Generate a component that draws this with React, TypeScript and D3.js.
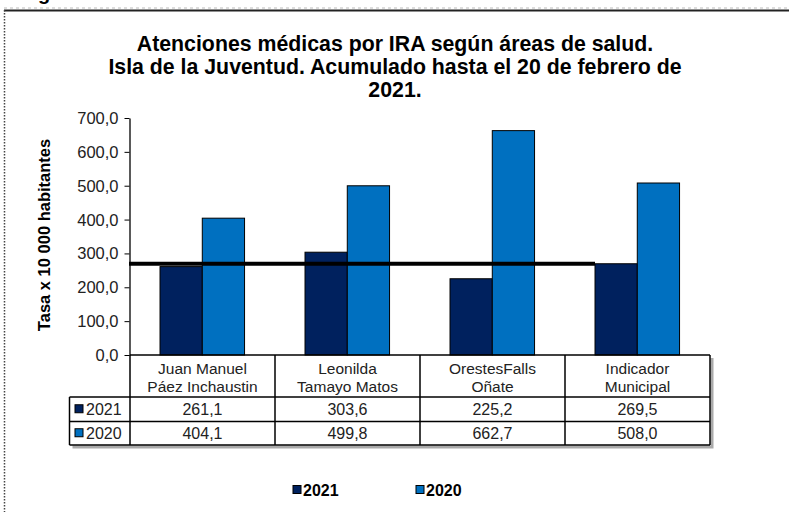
import { useRef, useEffect } from "react";
import * as d3 from "d3";

const categories = [
  "Juan Manuel Páez Inchaustin",
  "Leonilda Tamayo Matos",
  "OrestesFalls Oñate",
  "Indicador Municipal",
];
const categoryLines = [
  ["Juan Manuel", "Páez Inchaustin"],
  ["Leonilda", "Tamayo Matos"],
  ["OrestesFalls", "Oñate"],
  ["Indicador", "Municipal"],
];
const seriesNames = ["2021", "2020"];
const values2021 = [261.1, 303.6, 225.2, 269.5];
const values2020 = [404.1, 499.8, 662.7, 508.0];
const yTicks = [0, 100, 200, 300, 400, 500, 600, 700];
const titleLines = [
  "Atenciones médicas por IRA según áreas de salud.",
  "Isla de la Juventud. Acumulado hasta el 20 de febrero de",
  "2021.",
];
const yTitle = "Tasa x 10 000 habitantes";

const colors = { "2021": "#00215E", "2020": "#0070C0" };

function App() {
  const svgRef = useRef(null);

  useEffect(() => {
    const w = 789;
    const h = 512;
    const svg = d3.select(svgRef.current).attr("width", w).attr("height", h);
    svg.selectAll("*").remove();

    const font = "'Liberation Sans', Arial, sans-serif";
    const comma = (v) => d3.format(".1f")(v).replace(".", ",");
    const seriesValues = { "2021": values2021, "2020": values2020 };

    // frame (cropped page border)
    svg.append("line")
      .attr("x1", 4).attr("x2", w).attr("y1", 8).attr("y2", 8)
      .attr("stroke", "#bbb").attr("stroke-dasharray", "3,3");
    svg.append("line")
      .attr("x1", 4).attr("x2", w).attr("y1", 10.5).attr("y2", 10.5)
      .attr("stroke", "#222").attr("stroke-width", 2);
    svg.append("line")
      .attr("x1", 4.5).attr("x2", 4.5).attr("y1", 10).attr("y2", h)
      .attr("stroke", "#444").attr("stroke-width", 1.5).attr("stroke-dasharray", "1.5,1.5");
    svg.append("text")
      .attr("x", 38).attr("y", 0)
      .attr("font-family", font).attr("font-weight", "bold").attr("font-size", 20)
      .text("g");

    // title
    svg.append("g")
      .selectAll("text")
      .data(titleLines)
      .join("text")
      .attr("x", 395)
      .attr("y", (d, i) => 51 + i * 23)
      .attr("text-anchor", "middle")
      .attr("font-family", font)
      .attr("font-weight", "bold")
      .attr("font-size", 21.3)
      .text((d) => d);

    // scales
    const yScale = d3.scaleLinear().domain([0, 700]).range([355, 118]);
    const x0 = d3.scaleBand().domain(categories).range([130, 710]);
    const bw = x0.bandwidth();
    const x1 = d3.scaleBand().domain(seriesNames).range([bw * 0.207, bw * 0.79]);

    // y axis
    const yAxis = d3.axisLeft(yScale).tickValues(yTicks).tickFormat(comma).tickSize(5).tickSizeOuter(0);
    const ag = svg.append("g").attr("transform", "translate(129.5,0)").call(yAxis);
    ag.select(".domain").attr("stroke", "#000").attr("stroke-width", 1.3);
    ag.selectAll(".tick line").attr("stroke", "#000");
    ag.selectAll(".tick text")
      .attr("font-family", font).attr("font-size", 16.5).attr("fill", "#222")
      .attr("dy", "0.33em").attr("x", -11);

    svg.append("text")
      .attr("transform", "translate(50,235) rotate(-90)")
      .attr("text-anchor", "middle")
      .attr("font-family", font).attr("font-weight", "bold").attr("font-size", 16.5)
      .text(yTitle);

    // bars
    const groups = svg.append("g")
      .selectAll("g")
      .data(categories)
      .join("g")
      .attr("transform", (d) => `translate(${x0(d)},0)`);
    groups.selectAll("rect")
      .data((d, i) => seriesNames.map((s) => ({ s, v: seriesValues[s][i] })))
      .join("rect")
      .attr("x", (d) => x1(d.s))
      .attr("width", x1.bandwidth())
      .attr("y", (d) => yScale(d.v))
      .attr("height", (d) => yScale(0) - yScale(d.v))
      .attr("fill", (d) => colors[d.s])
      .attr("stroke", "#000")
      .attr("stroke-width", 1);

    // municipal reference line
    const refX = x0(categories[3]) + x1("2021");
    svg.append("line")
      .attr("x1", 129).attr("x2", refX)
      .attr("y1", yScale(values2021[3])).attr("y2", yScale(values2021[3]))
      .attr("stroke", "#000").attr("stroke-width", 4);

    // data table
    const tTop = yScale(0);
    const rowH = [42, 24.5, 23.5];
    const r1 = tTop + rowH[0];
    const r2 = r1 + rowH[1];
    const r3 = r2 + rowH[2];
    const left = 69.5;
    const right = x0.range()[1];
    const tg = svg.append("g");
    // shadow
    tg.append("path")
      .attr("d", `M${right + 2},${tTop + 3} V${r3 + 2} H${left + 3}`)
      .attr("fill", "none").attr("stroke", "#aaa").attr("stroke-width", 3);
    const lines = [
      [x0.range()[0], tTop, right, tTop],
      [left, r1, right, r1],
      [left, r2, right, r2],
      [left, r3, right, r3],
      [left, r1, left, r3],
      [right, tTop, right, r3],
    ];
    categories.forEach((c) => lines.push([x0(c), tTop, x0(c), r3]));
    tg.selectAll("line")
      .data(lines)
      .join("line")
      .attr("x1", (d) => d[0]).attr("y1", (d) => d[1])
      .attr("x2", (d) => d[2]).attr("y2", (d) => d[3])
      .attr("stroke", "#000").attr("stroke-width", 1.5);

    // header labels
    categories.forEach((c, i) => {
      tg.append("g")
        .selectAll("text")
        .data(categoryLines[i])
        .join("text")
        .attr("x", x0(c) + bw / 2)
        .attr("y", (d, j) => tTop + 18.5 + j * 18)
        .attr("text-anchor", "middle")
        .attr("font-family", font).attr("font-size", 15.5).attr("fill", "#222")
        .text((d) => d);
    });

    // rows
    seriesNames.forEach((s, ri) => {
      const yMid = ri === 0 ? (r1 + r2) / 2 : (r2 + r3) / 2;
      tg.append("rect")
        .attr("x", 75).attr("y", yMid - 4.5).attr("width", 8).attr("height", 8)
        .attr("fill", colors[s]).attr("stroke", "#000");
      tg.append("text")
        .attr("x", 86).attr("y", yMid + 6)
        .attr("font-family", font).attr("font-size", 16).attr("fill", "#222")
        .text(s);
      tg.append("g")
        .selectAll("text")
        .data(categories)
        .join("text")
        .attr("x", (c) => x0(c) + bw / 2)
        .attr("y", yMid + 6)
        .attr("text-anchor", "middle")
        .attr("font-family", font).attr("font-size", 16).attr("fill", "#222")
        .text((c, i) => comma(seriesValues[s][i]));
    });

    // legend
    const legendX = { "2021": 293, "2020": 416 };
    const lg = svg.append("g")
      .selectAll("g")
      .data(seriesNames)
      .join("g")
      .attr("transform", (d) => `translate(${legendX[d]},490)`);
    lg.append("rect")
      .attr("x", 0).attr("y", -4.5).attr("width", 8).attr("height", 8)
      .attr("fill", (d) => colors[d]).attr("stroke", "#000");
    lg.append("text")
      .attr("x", 10).attr("y", 6)
      .attr("font-family", font).attr("font-weight", "bold").attr("font-size", 16)
      .text((d) => d);
  }, []);

  return (
    <svg
      ref={svgRef}
      style={{ position: "absolute", left: 0, top: 0, background: "#fff" }}
    ></svg>
  );
}

export default App;
